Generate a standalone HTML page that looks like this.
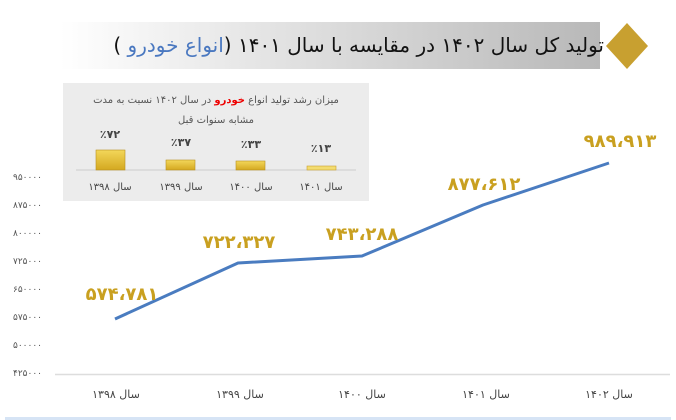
<!DOCTYPE html>
<html><head><meta charset="utf-8"><style>
body{margin:0;width:676px;height:420px;background:#fff;overflow:hidden;font-family:"DejaVu Sans","Liberation Sans",sans-serif;position:relative}
.t{position:absolute;white-space:nowrap}
</style></head><body>
<svg width="676" height="420" xmlns="http://www.w3.org/2000/svg" style="position:absolute;left:0;top:0;font-family:'DejaVu Sans','Liberation Sans',sans-serif">
<defs>
<linearGradient id="ban" x1="0" x2="1"><stop offset="0" stop-color="#fff"/><stop offset="1" stop-color="#b8b8b8"/></linearGradient>
<linearGradient id="bar" x1="0" y1="0" x2="0" y2="1"><stop offset="0" stop-color="#f3d75a"/><stop offset="1" stop-color="#d4a820"/></linearGradient>
</defs>
<rect x="60" y="22" width="540" height="47" fill="url(#ban)"/>
<polygon points="627,23 648,46 627,69 606,46" fill="#c8a030"/>
<rect x="63" y="83" width="306" height="118" fill="#ececec"/>
<line x1="76" y1="170" x2="356" y2="170" stroke="#ccc"/>
<g font-size="11" font-weight="bold" fill="#444" text-anchor="middle">
<rect x="96" y="150" width="29" height="20" fill="url(#bar)" stroke="#b89020" stroke-width="0.6"/><text x="110" y="138">٪۷۲</text>
<rect x="166" y="160" width="29" height="10" fill="url(#bar)" stroke="#b89020" stroke-width="0.6"/><text x="181" y="146">٪۳۷</text>
<rect x="236" y="161" width="29" height="9" fill="url(#bar)" stroke="#b89020" stroke-width="0.6"/><text x="251" y="148">٪۳۳</text>
<rect x="307" y="166" width="29" height="4" fill="#f3dc70" stroke="#c8a030" stroke-width="0.6"/><text x="321" y="152">٪۱۳</text>
</g>
<g font-size="10" fill="#444" text-anchor="middle">
<text x="110" y="190">سال ۱۳۹۸</text><text x="181" y="190">سال ۱۳۹۹</text><text x="251" y="190">سال ۱۴۰۰</text><text x="321" y="190">سال ۱۴۰۱</text>
</g>
<g font-size="9" fill="#555" text-anchor="end">
<text x="42" y="180">۹۵۰۰۰۰</text><text x="42" y="208">۸۷۵۰۰۰</text><text x="42" y="236">۸۰۰۰۰۰</text><text x="42" y="264">۷۲۵۰۰۰</text><text x="42" y="292">۶۵۰۰۰۰</text><text x="42" y="320">۵۷۵۰۰۰</text><text x="42" y="348">۵۰۰۰۰۰</text><text x="42" y="376">۴۲۵۰۰۰</text>
</g>
<line x1="55" y1="374.5" x2="670" y2="374.5" stroke="#ddd" stroke-width="1.5"/>
<polyline points="115,319 238,263 362,256 483,205 609,163" fill="none" stroke="#4a7cc0" stroke-width="3" stroke-linejoin="round"/>
<g font-size="18" font-weight="bold" fill="#c9a020" text-anchor="middle">
<text x="122" y="300">۵۷۴،۷۸۱</text><text x="239" y="248">۷۲۲،۳۲۷</text><text x="362" y="240">۷۴۳،۲۸۸</text><text x="484" y="190">۸۷۷،۶۱۲</text><text x="620" y="147">۹۸۹،۹۱۳</text>
</g>
<g font-size="11" fill="#444" text-anchor="middle">
<text x="116" y="398">سال ۱۳۹۸</text><text x="240" y="398">سال ۱۳۹۹</text><text x="362" y="398">سال ۱۴۰۰</text><text x="486" y="398">سال ۱۴۰۱</text><text x="609" y="398">سال ۱۴۰۲</text>
</g>
<rect x="5" y="417" width="666" height="3" fill="#d6e4f5"/>
</svg>
<div class="t" dir="rtl" style="right:72px;top:32px;font-size:20px;color:#111;line-height:26px">تولید کل سال ۱۴۰۲ در مقایسه با سال ۱۴۰۱ (<span style="color:#4a78c0">انواع خودرو</span> )</div>
<div class="t" dir="rtl" style="left:63px;width:306px;top:91px;font-size:10px;color:#555;text-align:center;line-height:20px;white-space:normal">میزان رشد تولید انواع <b style="color:#e00">خودرو</b> در سال ۱۴۰۲ نسبت به مدت<br>مشابه سنوات قبل</div>
</body></html>
